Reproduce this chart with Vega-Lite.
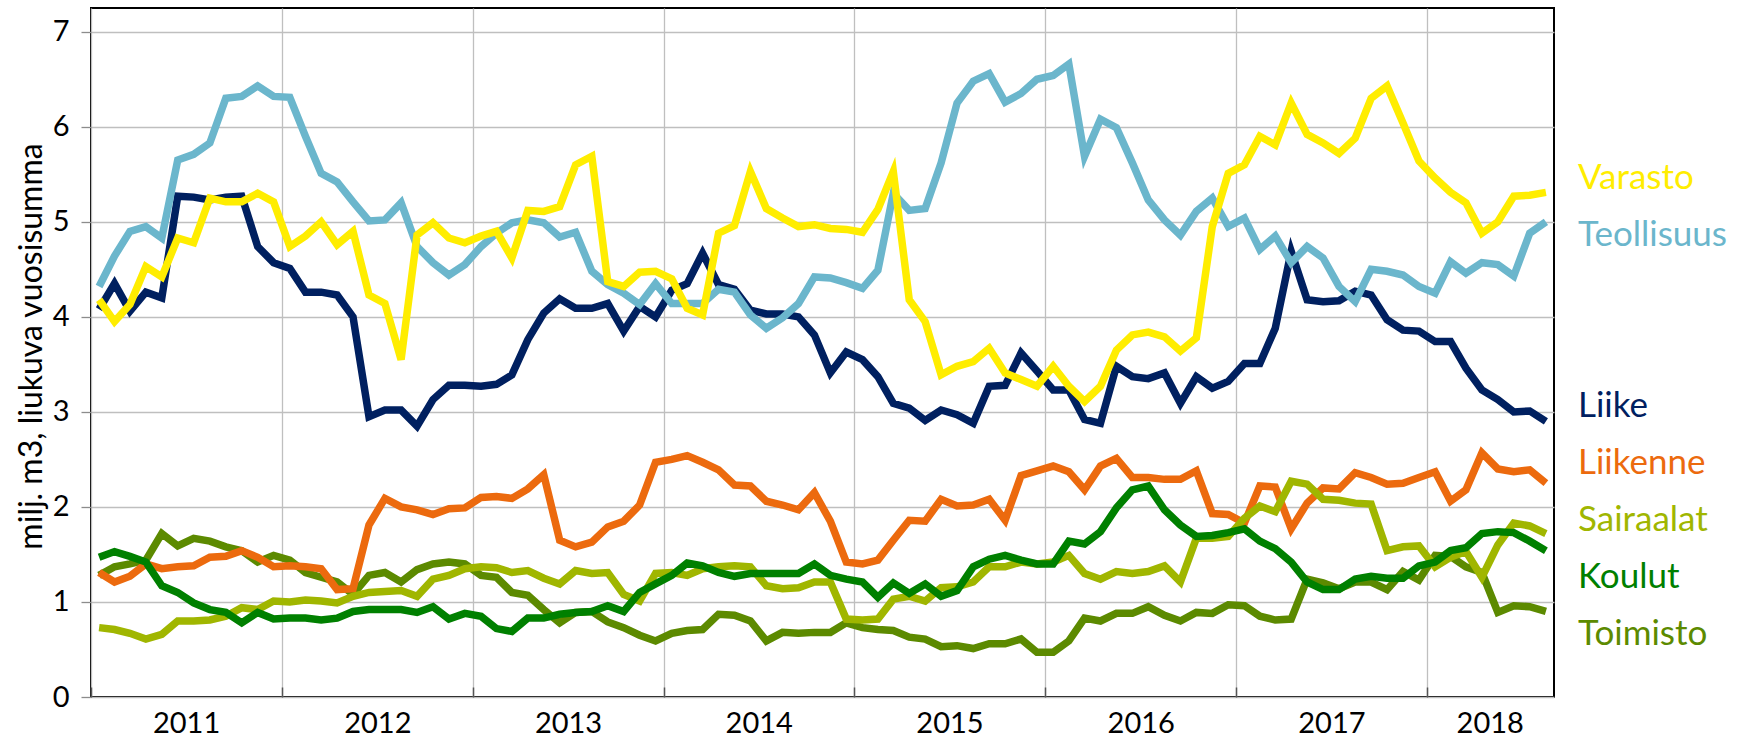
{
  "$schema": "https://vega.github.io/schema/vega-lite/v6.json",
  "width": 1463,
  "height": 689,
  "autosize": {"type": "none"},
  "padding": {"left": 91, "top": 8, "right": 196, "bottom": 41},
  "background": "#ffffff",
  "config": {
    "font": "Lato",
    "view": {"stroke": "#000000", "strokeWidth": 2}
  },
  "data": {
    "values": [
      {"kk":"2011-01","Varasto":4.18,"Teollisuus":4.32,"Liike":4.08,"Liikenne":1.31,"Sairaalat":0.73,"Koulut":1.47,"Toimisto":1.28},
      {"kk":"2011-02","Varasto":3.95,"Teollisuus":4.64,"Liike":4.35,"Liikenne":1.21,"Sairaalat":0.71,"Koulut":1.53,"Toimisto":1.37},
      {"kk":"2011-03","Varasto":4.13,"Teollisuus":4.90,"Liike":4.06,"Liikenne":1.27,"Sairaalat":0.67,"Koulut":1.48,"Toimisto":1.40},
      {"kk":"2011-04","Varasto":4.53,"Teollisuus":4.95,"Liike":4.26,"Liikenne":1.40,"Sairaalat":0.61,"Koulut":1.42,"Toimisto":1.44},
      {"kk":"2011-05","Varasto":4.42,"Teollisuus":4.83,"Liike":4.20,"Liikenne":1.35,"Sairaalat":0.66,"Koulut":1.17,"Toimisto":1.72},
      {"kk":"2011-06","Varasto":4.83,"Teollisuus":5.65,"Liike":5.27,"Liikenne":1.37,"Sairaalat":0.80,"Koulut":1.10,"Toimisto":1.59},
      {"kk":"2011-07","Varasto":4.78,"Teollisuus":5.71,"Liike":5.26,"Liikenne":1.38,"Sairaalat":0.80,"Koulut":0.99,"Toimisto":1.67},
      {"kk":"2011-08","Varasto":5.25,"Teollisuus":5.83,"Liike":5.23,"Liikenne":1.47,"Sairaalat":0.81,"Koulut":0.92,"Toimisto":1.64},
      {"kk":"2011-09","Varasto":5.21,"Teollisuus":6.30,"Liike":5.26,"Liikenne":1.48,"Sairaalat":0.85,"Koulut":0.89,"Toimisto":1.58},
      {"kk":"2011-10","Varasto":5.21,"Teollisuus":6.32,"Liike":5.27,"Liikenne":1.54,"Sairaalat":0.94,"Koulut":0.78,"Toimisto":1.54},
      {"kk":"2011-11","Varasto":5.30,"Teollisuus":6.43,"Liike":4.74,"Liikenne":1.47,"Sairaalat":0.92,"Koulut":0.89,"Toimisto":1.42},
      {"kk":"2011-12","Varasto":5.21,"Teollisuus":6.32,"Liike":4.57,"Liikenne":1.37,"Sairaalat":1.01,"Koulut":0.82,"Toimisto":1.49},
      {"kk":"2012-01","Varasto":4.74,"Teollisuus":6.31,"Liike":4.51,"Liikenne":1.38,"Sairaalat":1.00,"Koulut":0.83,"Toimisto":1.44},
      {"kk":"2012-02","Varasto":4.85,"Teollisuus":5.90,"Liike":4.26,"Liikenne":1.37,"Sairaalat":1.02,"Koulut":0.83,"Toimisto":1.31},
      {"kk":"2012-03","Varasto":5.00,"Teollisuus":5.51,"Liike":4.26,"Liikenne":1.35,"Sairaalat":1.01,"Koulut":0.81,"Toimisto":1.26},
      {"kk":"2012-04","Varasto":4.76,"Teollisuus":5.42,"Liike":4.23,"Liikenne":1.13,"Sairaalat":0.99,"Koulut":0.83,"Toimisto":1.21},
      {"kk":"2012-05","Varasto":4.90,"Teollisuus":5.21,"Liike":4.00,"Liikenne":1.14,"Sairaalat":1.06,"Koulut":0.90,"Toimisto":1.08},
      {"kk":"2012-06","Varasto":4.23,"Teollisuus":5.01,"Liike":2.95,"Liikenne":1.81,"Sairaalat":1.10,"Koulut":0.92,"Toimisto":1.28},
      {"kk":"2012-07","Varasto":4.14,"Teollisuus":5.02,"Liike":3.02,"Liikenne":2.09,"Sairaalat":1.11,"Koulut":0.92,"Toimisto":1.31},
      {"kk":"2012-08","Varasto":3.55,"Teollisuus":5.20,"Liike":3.02,"Liikenne":2.00,"Sairaalat":1.12,"Koulut":0.92,"Toimisto":1.21},
      {"kk":"2012-09","Varasto":4.86,"Teollisuus":4.74,"Liike":2.85,"Liikenne":1.97,"Sairaalat":1.06,"Koulut":0.89,"Toimisto":1.34},
      {"kk":"2012-10","Varasto":4.99,"Teollisuus":4.57,"Liike":3.13,"Liikenne":1.92,"Sairaalat":1.24,"Koulut":0.95,"Toimisto":1.40},
      {"kk":"2012-11","Varasto":4.83,"Teollisuus":4.44,"Liike":3.28,"Liikenne":1.98,"Sairaalat":1.28,"Koulut":0.82,"Toimisto":1.42},
      {"kk":"2012-12","Varasto":4.78,"Teollisuus":4.55,"Liike":3.28,"Liikenne":1.99,"Sairaalat":1.35,"Koulut":0.88,"Toimisto":1.40},
      {"kk":"2013-01","Varasto":4.85,"Teollisuus":4.74,"Liike":3.27,"Liikenne":2.10,"Sairaalat":1.37,"Koulut":0.85,"Toimisto":1.28},
      {"kk":"2013-02","Varasto":4.90,"Teollisuus":4.88,"Liike":3.29,"Liikenne":2.11,"Sairaalat":1.36,"Koulut":0.72,"Toimisto":1.26},
      {"kk":"2013-03","Varasto":4.62,"Teollisuus":4.99,"Liike":3.39,"Liikenne":2.09,"Sairaalat":1.31,"Koulut":0.69,"Toimisto":1.10},
      {"kk":"2013-04","Varasto":5.12,"Teollisuus":5.02,"Liike":3.76,"Liikenne":2.19,"Sairaalat":1.33,"Koulut":0.83,"Toimisto":1.07},
      {"kk":"2013-05","Varasto":5.11,"Teollisuus":4.99,"Liike":4.04,"Liikenne":2.34,"Sairaalat":1.25,"Koulut":0.83,"Toimisto":0.92},
      {"kk":"2013-06","Varasto":5.16,"Teollisuus":4.84,"Liike":4.19,"Liikenne":1.65,"Sairaalat":1.19,"Koulut":0.87,"Toimisto":0.78},
      {"kk":"2013-07","Varasto":5.60,"Teollisuus":4.89,"Liike":4.09,"Liikenne":1.58,"Sairaalat":1.33,"Koulut":0.89,"Toimisto":0.89},
      {"kk":"2013-08","Varasto":5.69,"Teollisuus":4.48,"Liike":4.09,"Liikenne":1.63,"Sairaalat":1.30,"Koulut":0.90,"Toimisto":0.90},
      {"kk":"2013-09","Varasto":4.37,"Teollisuus":4.34,"Liike":4.14,"Liikenne":1.79,"Sairaalat":1.31,"Koulut":0.96,"Toimisto":0.79},
      {"kk":"2013-10","Varasto":4.32,"Teollisuus":4.25,"Liike":3.85,"Liikenne":1.85,"Sairaalat":1.08,"Koulut":0.90,"Toimisto":0.73},
      {"kk":"2013-11","Varasto":4.47,"Teollisuus":4.13,"Liike":4.11,"Liikenne":2.02,"Sairaalat":1.01,"Koulut":1.10,"Toimisto":0.65},
      {"kk":"2013-12","Varasto":4.48,"Teollisuus":4.35,"Liike":4.00,"Liikenne":2.47,"Sairaalat":1.30,"Koulut":1.19,"Toimisto":0.59},
      {"kk":"2014-01","Varasto":4.40,"Teollisuus":4.14,"Liike":4.28,"Liikenne":2.50,"Sairaalat":1.31,"Koulut":1.28,"Toimisto":0.67},
      {"kk":"2014-02","Varasto":4.09,"Teollisuus":4.14,"Liike":4.35,"Liikenne":2.54,"Sairaalat":1.28,"Koulut":1.41,"Toimisto":0.70},
      {"kk":"2014-03","Varasto":4.02,"Teollisuus":4.14,"Liike":4.67,"Liikenne":2.47,"Sairaalat":1.35,"Koulut":1.38,"Toimisto":0.71},
      {"kk":"2014-04","Varasto":4.88,"Teollisuus":4.29,"Liike":4.34,"Liikenne":2.39,"Sairaalat":1.37,"Koulut":1.31,"Toimisto":0.87},
      {"kk":"2014-05","Varasto":4.96,"Teollisuus":4.26,"Liike":4.29,"Liikenne":2.23,"Sairaalat":1.38,"Koulut":1.27,"Toimisto":0.86},
      {"kk":"2014-06","Varasto":5.53,"Teollisuus":4.02,"Liike":4.07,"Liikenne":2.22,"Sairaalat":1.37,"Koulut":1.30,"Toimisto":0.80},
      {"kk":"2014-07","Varasto":5.14,"Teollisuus":3.88,"Liike":4.03,"Liikenne":2.06,"Sairaalat":1.17,"Koulut":1.30,"Toimisto":0.59},
      {"kk":"2014-08","Varasto":5.04,"Teollisuus":3.99,"Liike":4.03,"Liikenne":2.02,"Sairaalat":1.14,"Koulut":1.30,"Toimisto":0.68},
      {"kk":"2014-09","Varasto":4.95,"Teollisuus":4.14,"Liike":4.00,"Liikenne":1.97,"Sairaalat":1.15,"Koulut":1.30,"Toimisto":0.67},
      {"kk":"2014-10","Varasto":4.97,"Teollisuus":4.42,"Liike":3.81,"Liikenne":2.15,"Sairaalat":1.21,"Koulut":1.40,"Toimisto":0.68},
      {"kk":"2014-11","Varasto":4.93,"Teollisuus":4.41,"Liike":3.41,"Liikenne":1.85,"Sairaalat":1.21,"Koulut":1.28,"Toimisto":0.68},
      {"kk":"2014-12","Varasto":4.92,"Teollisuus":4.36,"Liike":3.63,"Liikenne":1.42,"Sairaalat":0.82,"Koulut":1.24,"Toimisto":0.78},
      {"kk":"2015-01","Varasto":4.89,"Teollisuus":4.30,"Liike":3.55,"Liikenne":1.40,"Sairaalat":0.81,"Koulut":1.21,"Toimisto":0.73},
      {"kk":"2015-02","Varasto":5.13,"Teollisuus":4.49,"Liike":3.37,"Liikenne":1.44,"Sairaalat":0.82,"Koulut":1.05,"Toimisto":0.71},
      {"kk":"2015-03","Varasto":5.53,"Teollisuus":5.30,"Liike":3.09,"Liikenne":1.65,"Sairaalat":1.03,"Koulut":1.20,"Toimisto":0.70},
      {"kk":"2015-04","Varasto":4.18,"Teollisuus":5.12,"Liike":3.04,"Liikenne":1.86,"Sairaalat":1.06,"Koulut":1.09,"Toimisto":0.63},
      {"kk":"2015-05","Varasto":3.95,"Teollisuus":5.14,"Liike":2.91,"Liikenne":1.85,"Sairaalat":1.01,"Koulut":1.19,"Toimisto":0.61},
      {"kk":"2015-06","Varasto":3.39,"Teollisuus":5.62,"Liike":3.02,"Liikenne":2.08,"Sairaalat":1.15,"Koulut":1.06,"Toimisto":0.53},
      {"kk":"2015-07","Varasto":3.48,"Teollisuus":6.25,"Liike":2.97,"Liikenne":2.01,"Sairaalat":1.16,"Koulut":1.12,"Toimisto":0.54},
      {"kk":"2015-08","Varasto":3.53,"Teollisuus":6.48,"Liike":2.88,"Liikenne":2.02,"Sairaalat":1.21,"Koulut":1.37,"Toimisto":0.51},
      {"kk":"2015-09","Varasto":3.67,"Teollisuus":6.56,"Liike":3.27,"Liikenne":2.08,"Sairaalat":1.37,"Koulut":1.45,"Toimisto":0.56},
      {"kk":"2015-10","Varasto":3.41,"Teollisuus":6.26,"Liike":3.28,"Liikenne":1.86,"Sairaalat":1.37,"Koulut":1.49,"Toimisto":0.56},
      {"kk":"2015-11","Varasto":3.34,"Teollisuus":6.35,"Liike":3.62,"Liikenne":2.33,"Sairaalat":1.42,"Koulut":1.44,"Toimisto":0.61},
      {"kk":"2015-12","Varasto":3.27,"Teollisuus":6.50,"Liike":3.43,"Liikenne":2.38,"Sairaalat":1.40,"Koulut":1.40,"Toimisto":0.47},
      {"kk":"2016-01","Varasto":3.48,"Teollisuus":6.54,"Liike":3.23,"Liikenne":2.43,"Sairaalat":1.42,"Koulut":1.40,"Toimisto":0.47},
      {"kk":"2016-02","Varasto":3.27,"Teollisuus":6.66,"Liike":3.23,"Liikenne":2.37,"Sairaalat":1.49,"Koulut":1.64,"Toimisto":0.59},
      {"kk":"2016-03","Varasto":3.11,"Teollisuus":5.69,"Liike":2.92,"Liikenne":2.18,"Sairaalat":1.30,"Koulut":1.61,"Toimisto":0.83},
      {"kk":"2016-04","Varasto":3.27,"Teollisuus":6.08,"Liike":2.88,"Liikenne":2.43,"Sairaalat":1.24,"Koulut":1.74,"Toimisto":0.80},
      {"kk":"2016-05","Varasto":3.65,"Teollisuus":5.99,"Liike":3.48,"Liikenne":2.51,"Sairaalat":1.32,"Koulut":1.99,"Toimisto":0.88},
      {"kk":"2016-06","Varasto":3.81,"Teollisuus":5.62,"Liike":3.37,"Liikenne":2.31,"Sairaalat":1.30,"Koulut":2.18,"Toimisto":0.88},
      {"kk":"2016-07","Varasto":3.84,"Teollisuus":5.23,"Liike":3.35,"Liikenne":2.31,"Sairaalat":1.32,"Koulut":2.22,"Toimisto":0.95},
      {"kk":"2016-08","Varasto":3.79,"Teollisuus":5.02,"Liike":3.41,"Liikenne":2.29,"Sairaalat":1.38,"Koulut":1.97,"Toimisto":0.86},
      {"kk":"2016-09","Varasto":3.64,"Teollisuus":4.86,"Liike":3.09,"Liikenne":2.29,"Sairaalat":1.21,"Koulut":1.81,"Toimisto":0.80},
      {"kk":"2016-10","Varasto":3.78,"Teollisuus":5.11,"Liike":3.37,"Liikenne":2.38,"Sairaalat":1.67,"Koulut":1.69,"Toimisto":0.89},
      {"kk":"2016-11","Varasto":4.95,"Teollisuus":5.25,"Liike":3.25,"Liikenne":1.93,"Sairaalat":1.67,"Koulut":1.70,"Toimisto":0.88},
      {"kk":"2016-12","Varasto":5.51,"Teollisuus":4.95,"Liike":3.32,"Liikenne":1.92,"Sairaalat":1.69,"Koulut":1.73,"Toimisto":0.97},
      {"kk":"2017-01","Varasto":5.60,"Teollisuus":5.04,"Liike":3.51,"Liikenne":1.83,"Sairaalat":1.88,"Koulut":1.77,"Toimisto":0.96},
      {"kk":"2017-02","Varasto":5.90,"Teollisuus":4.71,"Liike":3.51,"Liikenne":2.22,"Sairaalat":2.01,"Koulut":1.64,"Toimisto":0.85},
      {"kk":"2017-03","Varasto":5.81,"Teollisuus":4.85,"Liike":3.88,"Liikenne":2.21,"Sairaalat":1.95,"Koulut":1.56,"Toimisto":0.81},
      {"kk":"2017-04","Varasto":6.25,"Teollisuus":4.57,"Liike":4.69,"Liikenne":1.77,"Sairaalat":2.27,"Koulut":1.42,"Toimisto":0.82},
      {"kk":"2017-05","Varasto":5.92,"Teollisuus":4.74,"Liike":4.18,"Liikenne":2.04,"Sairaalat":2.24,"Koulut":1.21,"Toimisto":1.24},
      {"kk":"2017-06","Varasto":5.83,"Teollisuus":4.62,"Liike":4.16,"Liikenne":2.20,"Sairaalat":2.08,"Koulut":1.13,"Toimisto":1.20},
      {"kk":"2017-07","Varasto":5.72,"Teollisuus":4.32,"Liike":4.17,"Liikenne":2.19,"Sairaalat":2.07,"Koulut":1.13,"Toimisto":1.14},
      {"kk":"2017-08","Varasto":5.88,"Teollisuus":4.16,"Liike":4.27,"Liikenne":2.36,"Sairaalat":2.04,"Koulut":1.24,"Toimisto":1.21},
      {"kk":"2017-09","Varasto":6.30,"Teollisuus":4.50,"Liike":4.23,"Liikenne":2.31,"Sairaalat":2.03,"Koulut":1.27,"Toimisto":1.21},
      {"kk":"2017-10","Varasto":6.43,"Teollisuus":4.48,"Liike":3.97,"Liikenne":2.24,"Sairaalat":1.54,"Koulut":1.25,"Toimisto":1.13},
      {"kk":"2017-11","Varasto":6.04,"Teollisuus":4.44,"Liike":3.86,"Liikenne":2.25,"Sairaalat":1.58,"Koulut":1.25,"Toimisto":1.32},
      {"kk":"2017-12","Varasto":5.64,"Teollisuus":4.32,"Liike":3.85,"Liikenne":2.31,"Sairaalat":1.59,"Koulut":1.38,"Toimisto":1.23},
      {"kk":"2018-01","Varasto":5.46,"Teollisuus":4.25,"Liike":3.74,"Liikenne":2.37,"Sairaalat":1.37,"Koulut":1.42,"Toimisto":1.49},
      {"kk":"2018-02","Varasto":5.31,"Teollisuus":4.58,"Liike":3.74,"Liikenne":2.06,"Sairaalat":1.47,"Koulut":1.54,"Toimisto":1.48},
      {"kk":"2018-03","Varasto":5.20,"Teollisuus":4.46,"Liike":3.46,"Liikenne":2.18,"Sairaalat":1.53,"Koulut":1.57,"Toimisto":1.37},
      {"kk":"2018-04","Varasto":4.88,"Teollisuus":4.57,"Liike":3.23,"Liikenne":2.57,"Sairaalat":1.26,"Koulut":1.72,"Toimisto":1.31},
      {"kk":"2018-05","Varasto":5.00,"Teollisuus":4.55,"Liike":3.13,"Liikenne":2.40,"Sairaalat":1.60,"Koulut":1.74,"Toimisto":0.89},
      {"kk":"2018-06","Varasto":5.27,"Teollisuus":4.43,"Liike":3.00,"Liikenne":2.37,"Sairaalat":1.83,"Koulut":1.73,"Toimisto":0.96},
      {"kk":"2018-07","Varasto":5.28,"Teollisuus":4.88,"Liike":3.01,"Liikenne":2.39,"Sairaalat":1.80,"Koulut":1.64,"Toimisto":0.95},
      {"kk":"2018-08","Varasto":5.31,"Teollisuus":5.00,"Liike":2.90,"Liikenne":2.25,"Sairaalat":1.72,"Koulut":1.54,"Toimisto":0.90}
    ]
  },
  "transform": [
    {"fold": ["Toimisto", "Liikenne", "Sairaalat", "Koulut", "Liike", "Teollisuus", "Varasto"], "as": ["sarja", "arvo"]}
  ],
  "mark": {"type": "line", "strokeWidth": 7.5, "strokeJoin": "miter", "clip": true},
  "encoding": {
    "x": {
      "field": "kk",
      "type": "temporal",
      "timeUnit": "utcyearmonth",
      "bandPosition": 0.5,
      "title": null,
      "scale": {
        "type": "utc",
        "domain": [
          {"year": 2011, "month": 1, "date": 1, "utc": true},
          {"year": 2018, "month": 9, "date": 1, "utc": true}
        ],
        "nice": false
      },
      "axis": {
        "values": [
          {"year": 2011, "month": 1, "date": 1, "utc": true},
          {"year": 2011, "month": 7, "date": 2, "utc": true},
          {"year": 2012, "month": 1, "date": 1, "utc": true},
          {"year": 2012, "month": 7, "date": 2, "utc": true},
          {"year": 2013, "month": 1, "date": 1, "utc": true},
          {"year": 2013, "month": 7, "date": 2, "utc": true},
          {"year": 2014, "month": 1, "date": 1, "utc": true},
          {"year": 2014, "month": 7, "date": 2, "utc": true},
          {"year": 2015, "month": 1, "date": 1, "utc": true},
          {"year": 2015, "month": 7, "date": 2, "utc": true},
          {"year": 2016, "month": 1, "date": 1, "utc": true},
          {"year": 2016, "month": 7, "date": 2, "utc": true},
          {"year": 2017, "month": 1, "date": 1, "utc": true},
          {"year": 2017, "month": 7, "date": 2, "utc": true},
          {"year": 2018, "month": 1, "date": 1, "utc": true},
          {"year": 2018, "month": 5, "date": 1, "utc": true}
        ],
        "grid": true,
        "gridColor": "#BFBFBF",
        "gridWidth": 1.3,
        "gridOpacity": {"condition": {"test": "utcdate(datum.value) == 1 && utcmonth(datum.value) == 0", "value": 1}, "value": 0},
        "ticks": true,
        "tickSize": -10,
        "tickColor": "#555555",
        "tickWidth": 1.5,
        "tickOpacity": {"condition": {"test": "utcdate(datum.value) == 1 && utcmonth(datum.value) == 0", "value": 1}, "value": 0},
        "domain": false,
        "labelExpr": "utcmonth(datum.value) == 0 && utcdate(datum.value) == 1 ? '' : utcFormat(datum.value, '%Y')",
        "labelFont": "Lato",
        "labelFontSize": 29,
        "labelColor": "#000000",
        "labelPadding": 22,
        "labelFlush": false,
        "labelOverlap": false
      }
    },
    "y": {
      "field": "arvo",
      "type": "quantitative",
      "scale": {"domain": [0, 7.25], "nice": false, "zero": true},
      "axis": {
        "values": [0, 1, 2, 3, 4, 5, 6, 7],
        "grid": true,
        "gridColor": "#BFBFBF",
        "gridWidth": 1.3,
        "domain": false,
        "ticks": true,
        "tickColor": "#8C8C8C",
        "tickSize": 10,
        "tickWidth": 1.3,
        "labelFont": "Lato",
        "labelFontSize": 29,
        "labelColor": "#000000",
        "labelPadding": 12,
        "labelFlush": false,
        "title": "milj. m3, liukuva vuosisumma",
        "titleFont": "Lato",
        "titleFontSize": 32,
        "titleFontWeight": "normal",
        "titleColor": "#000000",
        "titleAngle": -90,
        "titleAlign": "center",
        "titleBaseline": "middle",
        "titleX": -60,
        "titleY": 338
      }
    },
    "color": {
      "field": "sarja",
      "type": "nominal",
      "scale": {
        "domain": ["Varasto", "Teollisuus", " ", "  ", "Liike", "Liikenne", "Sairaalat", "Koulut", "Toimisto"],
        "range": ["#FFED00", "#6BB6CC", "#FFFFFF", "#FFFFFF", "#002060", "#EC6A0E", "#A0B600", "#008000", "#5C8A00"]
      },
      "legend": {
        "orient": "none",
        "legendX": 1452,
        "legendY": 152,
        "title": null,
        "direction": "vertical",
        "padding": 0,
        "rowPadding": 21,
        "labelFont": "Lato",
        "labelFontSize": 35,
        "labelOffset": 0,
        "labelLimit": 400,
        "symbolType": "circle",
        "symbolSize": 1,
        "symbolOpacity": 0,
        "symbolStrokeWidth": 0,
        "encode": {
          "labels": {"update": {"fill": {"scale": "color", "field": "value"}}}
        }
      }
    }
  }
}
